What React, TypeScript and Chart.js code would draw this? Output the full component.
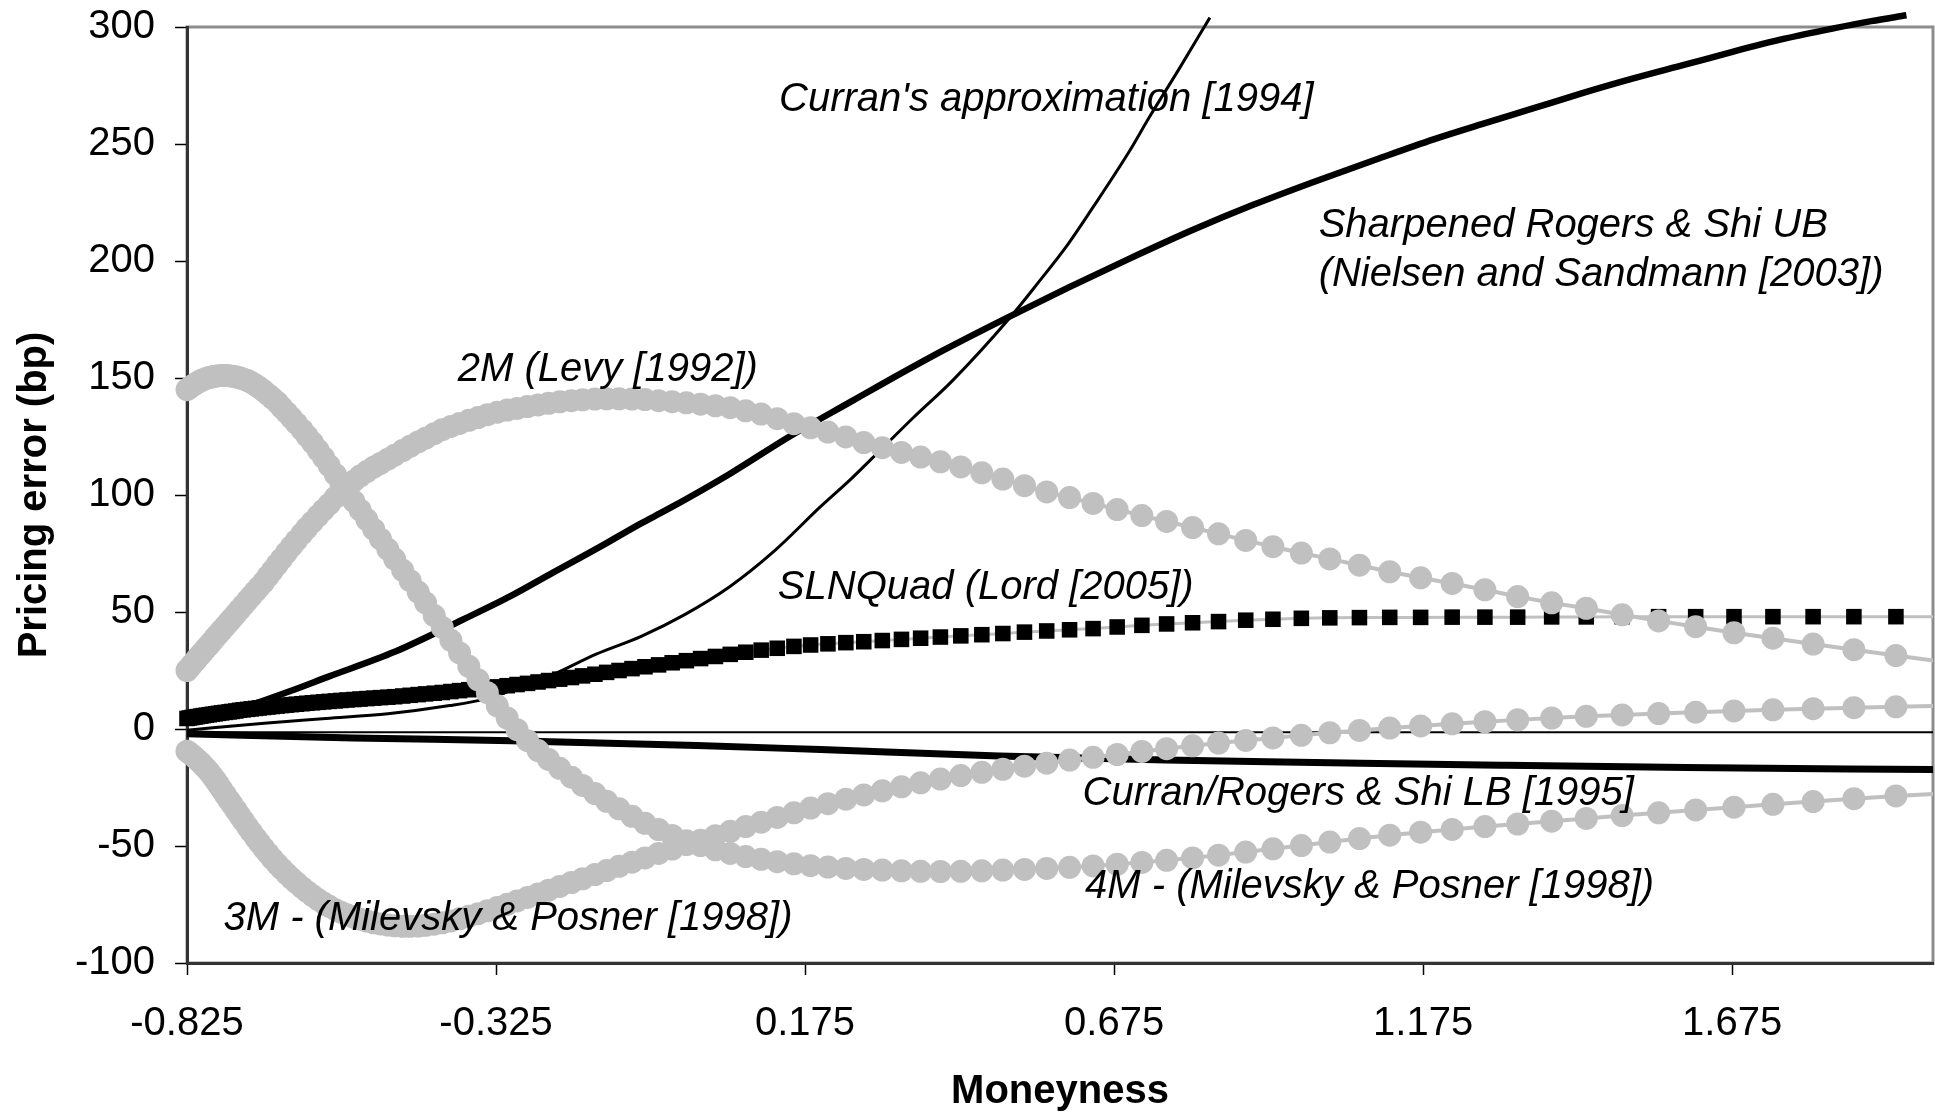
import React, { useEffect, useRef } from "react";
import { Chart, registerables } from "chart.js";

Chart.register(...registerables);

const FONT = "'Liberation Sans', Arial, Helvetica, sans-serif";
const GRAY = "#c0c0c0";
const LABEL_SIZE = 40;

// Axis ranges and ticks
const X_MIN = -0.825;
const X_MAX = 2.0;
const Y_MIN = -100;
const Y_MAX = 300;
const Y_STEP = 50;
const X_TICKS = [-0.825, -0.325, 0.175, 0.675, 1.175, 1.675];
const X_TICK_LABELS = ["-0.825", "-0.325", "0.175", "0.675", "1.175", "1.675"];

// Moneyness grid of the marker series
const MONEYNESS = [
  -0.825, -0.821, -0.817, -0.812, -0.808, -0.803, -0.799, -0.794, -0.789, -0.784,
  -0.779, -0.774, -0.769, -0.763, -0.757, -0.752, -0.746, -0.740, -0.734, -0.727,
  -0.721, -0.714, -0.708, -0.701, -0.694, -0.687, -0.679, -0.672, -0.664, -0.656,
  -0.648, -0.639, -0.631, -0.622, -0.613, -0.604, -0.595, -0.585, -0.576, -0.566,
  -0.555, -0.545, -0.534, -0.523, -0.512, -0.500, -0.489, -0.476, -0.464, -0.451,
  -0.439, -0.425, -0.412, -0.398, -0.384, -0.369, -0.354, -0.339, -0.323, -0.307,
  -0.291, -0.274, -0.257, -0.240, -0.222, -0.203, -0.185, -0.165, -0.146, -0.126,
  -0.105, -0.084, -0.062, -0.040, -0.017, 0.006, 0.030, 0.054, 0.079, 0.104,
  0.130, 0.157, 0.184, 0.212, 0.241, 0.270, 0.300, 0.331, 0.362, 0.394,
  0.427, 0.461, 0.495, 0.530, 0.566, 0.603, 0.641, 0.680, 0.720, 0.760,
  0.802, 0.844, 0.888, 0.932, 0.978, 1.024, 1.072, 1.121, 1.171, 1.222,
  1.275, 1.328, 1.383, 1.439, 1.497, 1.556, 1.616, 1.678, 1.741, 1.806,
  1.872, 1.940, 2.009,
];

const LEVY_2M = [
  25, 26.2, 27.5, 29, 30.3, 31.8, 33, 34.6, 36, 37.6,
  39.2, 40.7, 42.2, 44, 45.8, 47.3, 49.1, 51, 52.8, 55,
  56.8, 58.9, 60.7, 62.8, 65.2, 67.6, 70.3, 72.7, 75.4, 78,
  80.6, 83.4, 85.9, 88.5, 91.1, 93.6, 96.1, 99, 101.5, 103.8,
  106, 108.1, 110, 111.9, 113.5, 115.3, 117, 119, 120.8, 122.7,
  124.3, 126.2, 127.9, 129.3, 130.6, 131.9, 133.1, 134.3, 135.4, 136.3,
  137, 137.8, 138.5, 139.2, 139.8, 140.3, 140.7, 141, 141.1, 141.1,
  141, 140.8, 140.3, 139.9, 139.4, 138.8, 138.1, 137.3, 136, 134.6,
  132.6, 130.5, 128.7, 126.9, 124.8, 122.4, 120.2, 118.2, 116.2, 114.2,
  112, 109.5, 106.8, 104, 101.3, 98.9, 96.4, 93.8, 91.2, 88.7,
  86.1, 83.4, 80.6, 77.9, 75.2, 72.7, 70, 67.2, 64.6, 62.2,
  59.5, 56.6, 53.9, 51.6, 48.8, 46.2, 43.7, 41.1, 38.8, 36.3,
  33.9, 31.4, 29,
];

const MP_3M = [
  -9.5, -10.3, -11.1, -12.2, -13.2, -14.4, -15.5, -16.9, -18.4, -20.1,
  -21.9, -23.8, -25.8, -28.1, -30.4, -32.3, -34.6, -36.9, -39.2, -41.8,
  -44, -46.5, -48.6, -50.9, -53.2, -55.4, -57.7, -59.7, -61.8, -63.8,
  -65.7, -67.7, -69.4, -71.2, -72.9, -74.4, -75.8, -77.2, -78.3, -79.4,
  -80.5, -81.3, -82.1, -82.8, -83.3, -83.8, -84.1, -84.3, -84.3, -84.2,
  -83.9, -83.4, -82.8, -82, -81.1, -80, -78.9, -77.7, -76.3, -74.9,
  -73.5, -72, -70.5, -68.9, -67.3, -65.6, -64, -62.2, -60.5, -58.7,
  -56.9, -55.1, -53.2, -51.3, -49.4, -47.5, -45.6, -43.7, -41.7, -39.8,
  -37.8, -35.8, -33.8, -31.9, -30, -28.2, -26.4, -24.7, -23, -21.4,
  -19.9, -18.5, -17.2, -15.9, -14.6, -13.3, -12.1, -10.9, -9.6, -8.4,
  -7.2, -6, -4.9, -3.8, -2.7, -1.6, -0.6, 0.4, 1.3, 2.2,
  3.1, 3.9, 4.7, 5.4, 6, 6.6, 7.2, 7.7, 8.2, 8.7,
  9.1, 9.5, 9.9,
];

const MP_4M = [
  145, 145.8, 146.6, 147.4, 148.1, 148.8, 149.3, 149.8, 150.2, 150.5,
  150.8, 151, 151.1, 151.1, 151, 150.8, 150.5, 150.1, 149.6, 148.9,
  148.1, 147, 145.9, 144.5, 143, 141.4, 139.6, 137.5, 135.3, 133,
  130.6, 127.9, 125.3, 122.4, 119.2, 116, 112.6, 108.8, 105.2, 101.5,
  97.3, 93.6, 89.5, 85.4, 81.2, 76.8, 72.6, 67.8, 63.4, 58.5,
  53.9, 48.5, 43.4, 37.9, 32.5, 26.8, 21, 15.5, 9.9, 4.7,
  -0.3, -5, -9.2, -13, -16.8, -20.6, -24.1, -27.6, -30.9, -34.1,
  -37.3, -40.3, -43, -45.5, -47.8, -49.8, -51.6, -53.2, -54.5, -55.7,
  -56.7, -57.6, -58.4, -59, -59.6, -60, -60.3, -60.6, -60.8, -60.9,
  -60.8, -60.6, -60.3, -60, -59.6, -59.1, -58.5, -57.8, -57, -56.1,
  -55.1, -53.9, -52.6, -51.2, -49.8, -48.3, -46.8, -45.4, -44.1, -42.9,
  -41.7, -40.6, -39.4, -38.2, -37, -35.8, -34.6, -33.4, -32.2, -31,
  -29.8, -28.6, -27.6,
];

const SLNQUAD = [
  4.5, 4.7, 4.9, 5.1, 5.3, 5.5, 5.7, 5.9, 6.1, 6.3,
  6.5, 6.7, 6.9, 7.1, 7.3, 7.5, 7.7, 8, 8.2, 8.4,
  8.6, 8.8, 9, 9.2, 9.4, 9.6, 9.8, 10, 10.2, 10.4,
  10.6, 10.8, 11, 11.2, 11.4, 11.6, 11.8, 12, 12.2, 12.4,
  12.6, 12.8, 13, 13.2, 13.4, 13.6, 13.8, 14.1, 14.4, 14.7,
  15, 15.3, 15.6, 16, 16.4, 16.8, 17.2, 17.6, 18, 18.5,
  19, 19.5, 20.1, 20.7, 21.3, 22, 22.7, 23.4, 24.2, 25,
  25.8, 26.6, 27.4, 28.3, 29.2, 30.1, 31, 31.9, 32.8, 33.7,
  34.5, 35.3, 35.9, 36.4, 36.9, 37.3, 37.8, 38.3, 38.8, 39.3,
  39.8, 40.3, 40.8, 41.4, 41.9, 42.4, 42.9, 43.6, 44.3, 44.9,
  45.4, 45.9, 46.5, 46.9, 47.3, 47.5, 47.6, 47.7, 47.7, 47.8,
  47.8, 47.8, 47.9, 47.9, 48, 48, 48, 48, 48, 48,
  48, 48, 48,
];

// Line-only series
const UB_X = [
  -0.825, -0.78, -0.73, -0.66, -0.596, -0.488, -0.38, -0.3, -0.235, -0.157,
  -0.091, -0.05, 0.053, 0.15, 0.25, 0.3, 0.4, 0.5, 0.6, 0.7,
  0.8, 0.9, 1.0, 1.1, 1.192, 1.27, 1.354, 1.43, 1.515, 1.6,
  1.677, 1.76, 1.839, 1.9, 1.957,
];
const UB_Y = [
  3, 5.5, 9.5, 16, 22.4, 33.1, 46.6, 57, 66.5, 77.8,
  87.8, 93.5, 109, 125, 140, 147.5, 162, 175.5, 188.5, 201,
  213, 224, 234, 243.5, 252, 258.5, 265.3, 271.5, 278, 284,
  289.5, 295, 299.4, 302.5, 305,
];

const CURRAN_X = [
  -0.825, -0.7, -0.6, -0.5, -0.4, -0.34, -0.3, -0.235, -0.163, -0.091,
  -0.019, 0.053, 0.125, 0.2, 0.25, 0.3, 0.35, 0.414, 0.504, 0.55,
  0.6, 0.641, 0.7, 0.731, 0.78, 0.83,
];
const CURRAN_Y = [
  -0.5, 2.5, 4.5, 6.5, 10, 13, 16.5, 23, 32, 39.5,
  49, 60.8, 76, 95, 107, 120, 133, 149, 175, 190,
  207, 223, 247, 261, 282, 304,
];

const LB_X = [-0.825, -0.556, -0.3, 0.0, 0.2, 0.489, 0.758, 1.0, 1.3, 1.6, 2.0];
const LB_Y = [-2, -3.8, -5, -7, -8.8, -11.5, -13.3, -14.3, -15.5, -16.5, -17.3];

const ZERO_X = [-0.825, 2.0];
const ZERO_Y = [-1.4, -1.4];

// In-plot series captions (data coordinates of their left edge / cap-height centre)
const SERIES_LABELS = [
  { text: "Curran's approximation [1994]", x: 0.133, y: 270.3 },
  { text: "Sharpened Rogers & Shi UB", x: 1.006, y: 216.5 },
  { text: "(Nielsen and Sandmann [2003])", x: 1.006, y: 195.3 },
  { text: "2M (Levy [1992])", x: -0.387, y: 154.8 },
  { text: "SLNQuad (Lord [2005])", x: 0.131, y: 61.9 },
  { text: "Curran/Rogers & Shi LB [1995]", x: 0.624, y: -26.3 },
  { text: "4M - (Milevsky & Posner [1998])", x: 0.628, y: -65.9 },
  { text: "3M - (Milevsky & Posner [1998])", x: -0.766, y: -79.6 },
];

const pts = (xs: number[], ys: number[]) => xs.map((x, i) => ({ x, y: ys[i] }));
const markerRadius = (r: number) => (c: any) => (c.raw && c.raw.x > X_MAX ? 0 : r);
const CLIP = { left: 14, top: 20, right: 0, bottom: 0 };

const framePlugin = {
  id: "frame",
  beforeDraw(chart: any) {
    const { ctx, chartArea: a, width, height } = chart;
    ctx.save();
    ctx.fillStyle = "#ffffff";
    ctx.fillRect(0, 0, width, height);
    ctx.strokeStyle = "#8c8c8c";
    ctx.lineWidth = 3;
    ctx.strokeRect(a.left, a.top, a.right - a.left, a.bottom - a.top);
    ctx.restore();
  },
};

const labelPlugin = {
  id: "seriesLabels",
  afterDatasetsDraw(chart: any) {
    const { ctx, scales } = chart;
    ctx.save();
    ctx.font = `italic ${LABEL_SIZE}px ${FONT}`;
    ctx.fillStyle = "#000";
    ctx.textAlign = "left";
    ctx.textBaseline = "alphabetic";
    const capHalf = LABEL_SIZE * 0.36;
    for (const l of SERIES_LABELS) {
      ctx.fillText(l.text, scales.x.getPixelForValue(l.x), scales.y.getPixelForValue(l.y) + capHalf);
    }
    ctx.restore();
  },
};

export default function App() {
  const ref = useRef<HTMLCanvasElement | null>(null);

  useEffect(() => {
    const canvas = ref.current;
    if (!canvas) return;
    Chart.defaults.font.family = FONT;

    const dotSeries = (label: string, ys: number[]) => ({
      label,
      data: pts(MONEYNESS, ys),
      borderColor: GRAY,
      borderWidth: 4,
      pointStyle: "circle",
      pointRadius: markerRadius(11.5),
      pointBackgroundColor: GRAY,
      pointBorderColor: GRAY,
      pointBorderWidth: 0,
      tension: 0,
      clip: CLIP,
    });

    const lineSeries = (label: string, xs: number[], ys: number[], width: number) => ({
      label,
      data: pts(xs, ys),
      borderColor: "#000",
      borderWidth: width,
      pointRadius: 0,
      cubicInterpolationMode: "monotone",
      clip: CLIP,
    });

    const chart = new Chart(canvas, {
      type: "line",
      data: {
        datasets: [
          dotSeries("2M (Levy [1992])", LEVY_2M),
          dotSeries("3M - (Milevsky & Posner [1998])", MP_3M),
          dotSeries("4M - (Milevsky & Posner [1998])", MP_4M),
          {
            label: "SLNQuad (Lord [2005])",
            data: pts(MONEYNESS, SLNQUAD),
            borderColor: GRAY,
            borderWidth: 3,
            pointStyle: "rect",
            pointRadius: markerRadius(11),
            pointBackgroundColor: "#000",
            pointBorderColor: "#000",
            pointBorderWidth: 0,
            tension: 0,
            clip: CLIP,
          },
          lineSeries("Sharpened Rogers & Shi UB", UB_X, UB_Y, 6.5),
          lineSeries("Curran's approximation [1994]", CURRAN_X, CURRAN_Y, 3),
          lineSeries("Curran/Rogers & Shi LB [1995]", LB_X, LB_Y, 7),
          {
            label: "zero",
            data: pts(ZERO_X, ZERO_Y),
            borderColor: "#000",
            borderWidth: 2,
            pointRadius: 0,
            clip: CLIP,
          },
        ] as any,
      },
      options: {
        responsive: false,
        devicePixelRatio: 1,
        animation: false,
        events: [],
        layout: { autoPadding: false, padding: { left: 0, right: 2, top: 27, bottom: 0 } },
        plugins: {
          legend: { display: false },
          tooltip: { enabled: false },
        },
        scales: {
          x: {
            type: "linear",
            min: X_MIN,
            max: X_MAX,
            afterBuildTicks: (s: any) => {
              s.ticks = X_TICKS.map((v) => ({ value: v }));
            },
            afterFit: (s: any) => {
              s.height = 149;
              s.paddingLeft = 0;
              s.paddingRight = 0;
              s.paddingTop = 0;
              s.paddingBottom = 0;
            },
            ticks: {
              autoSkip: false,
              maxRotation: 0,
              padding: 25,
              color: "#000",
              font: { size: 40, family: FONT },
              callback: (v: any, i: number) => X_TICK_LABELS[i] ?? String(v),
            },
            grid: {
              drawOnChartArea: false,
              drawTicks: true,
              tickLength: 12,
              tickColor: "#000",
              tickWidth: 1.5,
            },
            border: { display: true, color: "#333", width: 3 },
            title: {
              display: true,
              text: "Moneyness",
              color: "#000",
              font: { size: 40, weight: "bold", family: FONT },
              padding: { top: 0, bottom: -4 },
            },
          },
          y: {
            type: "linear",
            min: Y_MIN,
            max: Y_MAX,
            afterFit: (s: any) => {
              s.width = 187;
              s.paddingTop = 0;
              s.paddingBottom = 0;
              s.paddingLeft = 0;
              s.paddingRight = 0;
            },
            ticks: {
              stepSize: Y_STEP,
              padding: 20,
              color: "#000",
              font: { size: 40, family: FONT },
            },
            grid: {
              drawOnChartArea: false,
              drawTicks: true,
              tickLength: 12,
              tickColor: "#000",
              tickWidth: 1.5,
            },
            border: { display: true, color: "#333", width: 3 },
            title: {
              display: true,
              text: "Pricing error (bp)",
              color: "#000",
              font: { size: 40, weight: "bold", family: FONT },
              padding: { top: 11, bottom: 0 },
            },
          },
        },
      } as any,
      plugins: [framePlugin, labelPlugin],
    });

    return () => chart.destroy();
  }, []);

  return (
    <div style={{ position: "absolute", left: 0, top: 0, width: 1935, height: 1112, background: "#fff" }}>
      <canvas ref={ref} width={1935} height={1112} style={{ display: "block", width: 1935, height: 1112 }} />
    </div>
  );
}
